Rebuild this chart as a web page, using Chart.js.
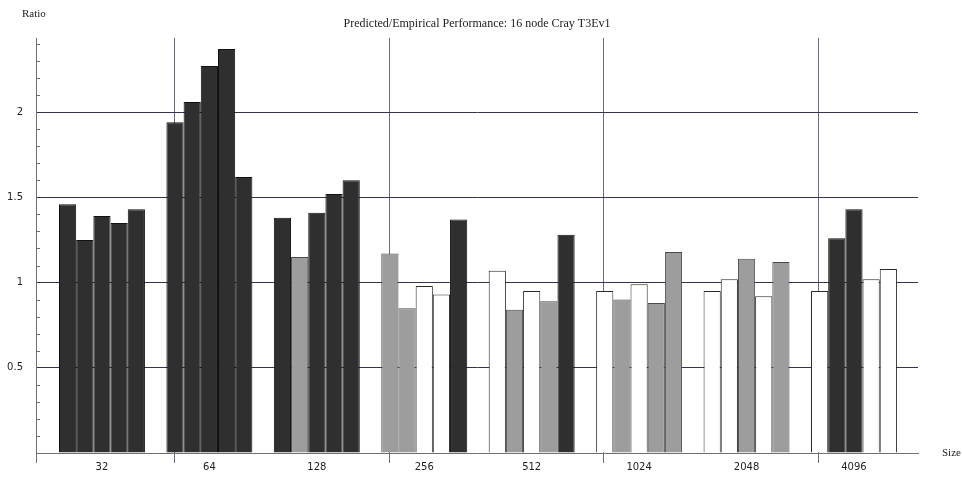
<!DOCTYPE html>
<html>
<head>
<meta charset="utf-8">
<script src="https://cdn.jsdelivr.net/npm/chart.js@4/dist/chart.umd.min.js"></script>
<style>
  html, body { margin: 0; padding: 0; background: #ffffff; }
  #wrap { width: 962px; height: 478px; }
</style>
</head>
<body>
<div id="wrap"><canvas id="c" width="962" height="478"></canvas></div>
<script>
// Message sizes along the x axis
const sizes = ['32', '64', '128', '256', '512', '1024', '2048', '4096'];

// Predicted/empirical ratio for each of the five bars in a group
const bar1 = [1.46, 1.94, 1.38, 1.17, 1.07, 0.95, 0.95, 0.95];
const bar2 = [1.25, 2.06, 1.15, 0.85, 0.84, 0.90, 1.02, 1.26];
const bar3 = [1.39, 2.27, 1.41, 0.98, 0.95, 0.99, 1.14, 1.43];
const bar4 = [1.35, 2.37, 1.52, 0.93, 0.89, 0.88, 0.92, 1.02];
const bar5 = [1.43, 1.62, 1.60, 1.37, 1.28, 1.18, 1.12, 1.08];

// Shade class of each bar: d = dark, g = grey, w = white
const shade1 = ['d', 'd', 'd', 'g', 'w', 'w', 'w', 'w'];
const shade2 = ['d', 'd', 'g', 'g', 'g', 'g', 'w', 'd'];
const shade3 = ['d', 'd', 'd', 'w', 'w', 'w', 'g', 'd'];
const shade4 = ['d', 'd', 'd', 'w', 'g', 'g', 'w', 'w'];
const shade5 = ['d', 'd', 'd', 'd', 'd', 'g', 'g', 'w'];

// Major y labels every 0.5, minor ticks every 0.1
const yMajorStep = 0.5;
const yMinorStep = 0.1;
const yMax = 2.435;

// Vertical rules sit between every second group
const rulePositions = [0.672, 2.672, 4.672, 6.672];
const xMin = -0.614;
const xMax = 7.596;

const FILL = { d: '#2f2f2f', g: '#9d9d9d', w: '#ffffff' };
const EDGE = { d: '#111111', g: '#4a4a4a', w: '#2a2a2a' };

const series = [bar1, bar2, bar3, bar4, bar5];
const shades = [shade1, shade2, shade3, shade4, shade5];

const datasets = series.map((vals, k) => ({
  label: 'bar ' + (k + 1),
  xAxisID: 'x',
  data: vals.map((v, i) => ({ x: i, y: v })),
  backgroundColor: shades[k].map(s => FILL[s]),
  borderColor: shades[k].map(s => EDGE[s]),
  borderWidth: 1,
  categoryPercentage: 0.8,
  barPercentage: 1.0
}));

const isMajor = v => Math.abs(v / yMajorStep - Math.round(v / yMajorStep)) < 1e-6;

// Axis captions and minor ticks on the value axis
const extras = {
  id: 'extras',
  afterDraw(chart) {
    const ctx = chart.ctx;
    const area = chart.chartArea;
    const y = chart.scales.y;
    ctx.save();
    ctx.strokeStyle = '#707070';
    ctx.lineWidth = 1;
    for (let v = yMinorStep; v < yMax; v += yMinorStep) {
      if (isMajor(v)) continue;
      const py = Math.round(y.getPixelForValue(v)) + 0.5;
      ctx.beginPath();
      ctx.moveTo(area.left, py);
      ctx.lineTo(area.left + 4, py);
      ctx.stroke();
    }
    ctx.fillStyle = '#222222';
    ctx.font = '11px "Liberation Serif", "Times New Roman", serif';
    ctx.textBaseline = 'middle';
    ctx.textAlign = 'left';
    ctx.fillText('Ratio', area.left - 14, area.top - 24);
    ctx.fillText('Size', area.right + 24, area.bottom);
    ctx.restore();
  }
};

new Chart(document.getElementById('c'), {
  type: 'bar',
  data: { datasets },
  plugins: [extras],
  options: {
    responsive: false,
    animation: false,
    devicePixelRatio: 1,
    layout: { padding: { left: 0, right: 44, top: 0, bottom: 0 } },
    plugins: {
      legend: { display: false },
      tooltip: { enabled: false },
      title: {
        display: true,
        fullSize: false,
        text: 'Predicted/Empirical Performance: 16 node Cray T3Ev1',
        color: '#222222',
        font: { family: '"Liberation Serif", "Times New Roman", serif', size: 12, weight: 'normal', lineHeight: 1.2 },
        padding: { top: 17, bottom: 6.6 }
      }
    },
    scales: {
      // Vertical rules with short ticks below the axis
      rules: {
        type: 'linear',
        position: 'bottom',
        weight: 0,
        min: xMin,
        max: xMax,
        offset: false,
        afterBuildTicks(scale) {
          scale.ticks = [{ value: xMin }].concat(rulePositions.map(p => ({ value: p })));
        },
        afterFit(scale) { scale.height = 0; },
        grid: {
          offset: false,
          drawOnChartArea: true,
          drawTicks: true,
          tickLength: 10,
          color: c => (c.tick && c.tick.value <= xMin + 0.01) ? '#707070' : '#6b6b80',
          lineWidth: 1
        },
        border: { display: false },
        ticks: { display: false }
      },
      x: {
        type: 'linear',
        position: 'bottom',
        weight: 1,
        min: xMin,
        max: xMax,
        offset: false,
        afterBuildTicks(scale) {
          scale.ticks = sizes.map((s, i) => ({ value: i }));
        },
        afterFit(scale) { scale.height = 25; },
        grid: { display: false, drawTicks: false, offset: false },
        border: { display: true, color: '#707070', width: 1 },
        ticks: {
          autoSkip: false,
          maxRotation: 0,
          padding: 8,
          color: '#222222',
          font: { family: '"DejaVu Sans", Verdana, sans-serif', size: 10 },
          callback: v => sizes[Math.round(v)] || ''
        }
      },
      y: {
        min: 0,
        max: yMax,
        afterFit(scale) { scale.width = 36; },
        grid: {
          drawTicks: false,
          color: c => (c.tick && c.tick.value > 0 && isMajor(c.tick.value)) ? '#34344e' : 'rgba(0,0,0,0)',
          lineWidth: 1
        },
        border: { display: true, color: '#707070', width: 1 },
        ticks: {
          stepSize: yMinorStep,
          autoSkip: false,
          padding: 13,
          color: '#222222',
          font: { family: '"DejaVu Sans", Verdana, sans-serif', size: 10 },
          callback: v => (v > 0 && isMajor(v)) ? String(Math.round(v * 10) / 10) : ''
        }
      }
    }
  }
});
</script>
</body>
</html>
